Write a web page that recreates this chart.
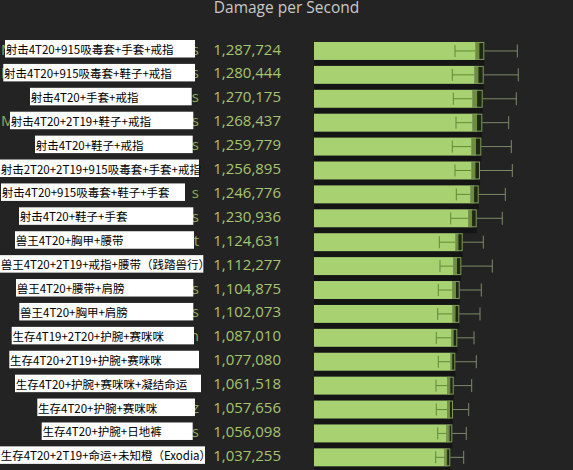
<!DOCTYPE html>
<html>
<head>
<meta charset="utf-8">
<script src="https://cdn.jsdelivr.net/npm/d3@7"></script>
<style>
  body { margin: 0; background: #232323; }
  svg { display: block; }
</style>
</head>
<body>
<div id="chart"></div>
<script>
// data
var labels = [
    "射击4T20+915吸毒套+手套+戒指",
    "射击4T20+915吸毒套+鞋子+戒指",
    "射击4T20+手套+戒指",
    "射击4T20+2T19+鞋子+戒指",
    "射击4T20+鞋子+戒指",
    "射击2T20+2T19+915吸毒套+手套+戒指",
    "射击4T20+915吸毒套+鞋子+手套",
    "射击4T20+鞋子+手套",
    "兽王4T20+胸甲+腰带",
    "兽王4T20+2T19+戒指+腰带（践踏兽行）",
    "兽王4T20+腰带+肩膀",
    "兽王4T20+胸甲+肩膀",
    "生存4T19+2T20+护腕+赛咪咪",
    "生存4T20+2T19+护腕+赛咪咪",
    "生存4T20+护腕+赛咪咪+凝结命运",
    "生存4T20+护腕+赛咪咪",
    "生存4T20+护腕+日地裤",
    "生存4T20+2T19+命运+未知橙（Exodia）"
];
var dps = [1287724, 1280444, 1270175, 1268437, 1259779, 1256895, 1246776, 1230936, 1124631,
    1112277, 1104875, 1102073, 1087010, 1077080, 1061518, 1057656, 1056098, 1037255];
var lowWhisker = [1096300, 1075300, 1083100, 1104100, 1075300, 1096300, 1106400, 1062800, 974200,
    979700, 966400, 961800, 950900, 966400, 948600, 950900, 961800, 946200];
var boxLow = [1251800, 1244000, 1228500, 1228500, 1220700, 1220700, 1212900, 1199700, 1096300,
    1083100, 1075300, 1073000, 1067500, 1057400, 1036400, 1036400, 1031700, 1016200];
var boxHigh = [1324100, 1319400, 1311600, 1308500, 1300800, 1290700, 1280500, 1265000, 1156100,
    1145300, 1132800, 1129700, 1114200, 1098600, 1086200, 1080700, 1075300, 1059700];
var highWhisker = [1580700, 1588400, 1572900, 1513800, 1534000, 1541800, 1487400, 1464000, 1316300,
    1386300, 1300800, 1290700, 1244000, 1261900, 1226100, 1202800, 1184100, 1163900];
// bits of the original labels that peek out round the white boxes
var peekRight = ["s", "s", "s", "s", "s", "", "s", "s", "t", "", "s", "s", "n", "", "", "z", "s", ""];
var peekLeft = ["M", "M", "", "M", "", "", "", "", "", "", "", "", "", "", "", "", "", ""];

// layout of the pasted white label boxes (left, right)
var boxEdges = [[5, 195], [3.3, 195], [30, 191.7], [10, 193.3], [35, 192.7], [0, 199], [1, 185],
    [19, 193.3], [15, 194], [0, 203.3], [16, 193.3], [19.3, 193.3], [11.7, 194], [9.3, 199],
    [15, 201], [37.3, 195], [41.7, 192.7], [0, 205]];

var width = 573;
var height = 470;

var svg = d3
    .select("#chart")
    .append("svg")
    .attr("width", width)
    .attr("height", height);

svg.append("rect")
    .attr("width", width)
    .attr("height", height)
    .attr("fill", "#232323");

var rows = labels.map(function(d, i) {
    return {
        label: d,
        dps: dps[i],
        lo: lowWhisker[i],
        bLo: boxLow[i],
        bHi: boxHigh[i],
        hi: highWhisker[i],
        pr: peekRight[i],
        pl: peekLeft[i],
        edge: boxEdges[i]
    };
});

var xScale = d3
    .scaleLinear()
    .domain([0, 1300000])
    .range([314, 314 + 1300000 / 7775]);

var yScale = d3
    .scaleBand()
    .domain(d3.range(rows.length))
    .range([42, 42 + 17 * 23.9 + 18])
    .paddingInner(0.25)
    .paddingOuter(0);

var bw = yScale.bandwidth();

// title
svg.append("text")
    .attr("x", width / 2)
    .attr("y", 12.5)
    .attr("text-anchor", "middle")
    .attr("font-family", "'Open Sans', sans-serif")
    .attr("font-size", 15.5)
    .attr("fill", "#c9c9c9")
    .text("Damage per Second");

var row = svg.selectAll("g.row")
    .data(rows)
    .enter()
    .append("g")
    .attr("class", "row")
    .attr("transform", function(d, i) {
        return "translate(0," + yScale(i) + ")";
    });

// shadow band under each bar
row.append("rect")
    .attr("x", xScale(0))
    .attr("y", bw)
    .attr("width", function(d) { return xScale(d.bHi) - xScale(0); })
    .attr("height", yScale.step() - bw)
    .attr("fill", "#151515");

// main bar
row.append("rect")
    .attr("x", xScale(0))
    .attr("y", 0)
    .attr("width", function(d) { return xScale(d.bLo) - xScale(0); })
    .attr("height", bw)
    .attr("fill", "#a8d272");

row.append("rect")
    .attr("x", function(d) { return xScale(d.bLo); })
    .attr("y", 0)
    .attr("width", function(d) { return xScale(d.dps) - xScale(d.bLo); })
    .attr("height", bw)
    .attr("fill", "#6e8c40");

row.append("rect")
    .attr("x", function(d) { return xScale(d.dps); })
    .attr("y", 0)
    .attr("width", function(d) { return xScale(d.bHi) - xScale(d.dps); })
    .attr("height", bw)
    .attr("fill", "#1d2912");

row.append("rect")
    .attr("x", function(d) { return xScale(d.bLo) + 0.5; })
    .attr("y", 0.5)
    .attr("width", function(d) { return xScale(d.bHi) - xScale(d.bLo) - 1; })
    .attr("height", bw - 1)
    .attr("fill", "none")
    .attr("stroke", "#7f9a5c")
    .attr("stroke-width", 1);

// whiskers
var mid = bw / 2;
row.append("line")
    .attr("x1", function(d) { return xScale(d.lo); })
    .attr("x2", function(d) { return xScale(d.bLo); })
    .attr("y1", mid).attr("y2", mid)
    .attr("stroke", "#5f8a38");
row.append("line")
    .attr("x1", function(d) { return xScale(d.lo); })
    .attr("x2", function(d) { return xScale(d.lo); })
    .attr("y1", mid - 6).attr("y2", mid + 6)
    .attr("stroke", "#5f8a38");
row.append("line")
    .attr("x1", function(d) { return xScale(d.bHi); })
    .attr("x2", function(d) { return xScale(d.hi); })
    .attr("y1", mid).attr("y2", mid)
    .attr("stroke", "#7c8a68");
row.append("line")
    .attr("x1", function(d) { return xScale(d.hi); })
    .attr("x2", function(d) { return xScale(d.hi); })
    .attr("y1", mid - 6.5).attr("y2", mid + 6.5)
    .attr("stroke", "#7c8a68");

// dps values
row.append("text")
    .attr("x", 281)
    .attr("y", 12.5)
    .attr("text-anchor", "end")
    .attr("font-family", "'Open Sans', sans-serif")
    .attr("font-size", 15)
    .attr("fill", "#a8c46e")
    .text(function(d) { return d3.format(",")(d.dps); });

// peeking remains of original labels
row.append("text")
    .attr("x", 199)
    .attr("y", 12.5)
    .attr("text-anchor", "end")
    .attr("font-family", "'Open Sans', sans-serif")
    .attr("font-size", 15)
    .attr("fill", "#8fae5e")
    .text(function(d) { return d.pr; });

row.append("text")
    .attr("x", 1)
    .attr("y", 12.5)
    .attr("font-family", "'Open Sans', sans-serif")
    .attr("font-size", 15)
    .attr("fill", "#8fae5e")
    .text(function(d) { return d.pl; });

// white label boxes
row.append("rect")
    .attr("x", function(d) { return d.edge[0]; })
    .attr("y", -2)
    .attr("width", function(d) { return d.edge[1] - d.edge[0]; })
    .attr("height", 17.5)
    .attr("fill", "#ffffff");

row.append("text")
    .attr("x", function(d) { return d.edge[0] + 0.7; })
    .attr("y", 12)
    .attr("font-family", "'Noto Sans CJK SC', sans-serif")
    .attr("font-size", 11.5)
    .attr("fill", "#000000")
    .text(function(d) { return d.label; });
</script>
</body>
</html>
